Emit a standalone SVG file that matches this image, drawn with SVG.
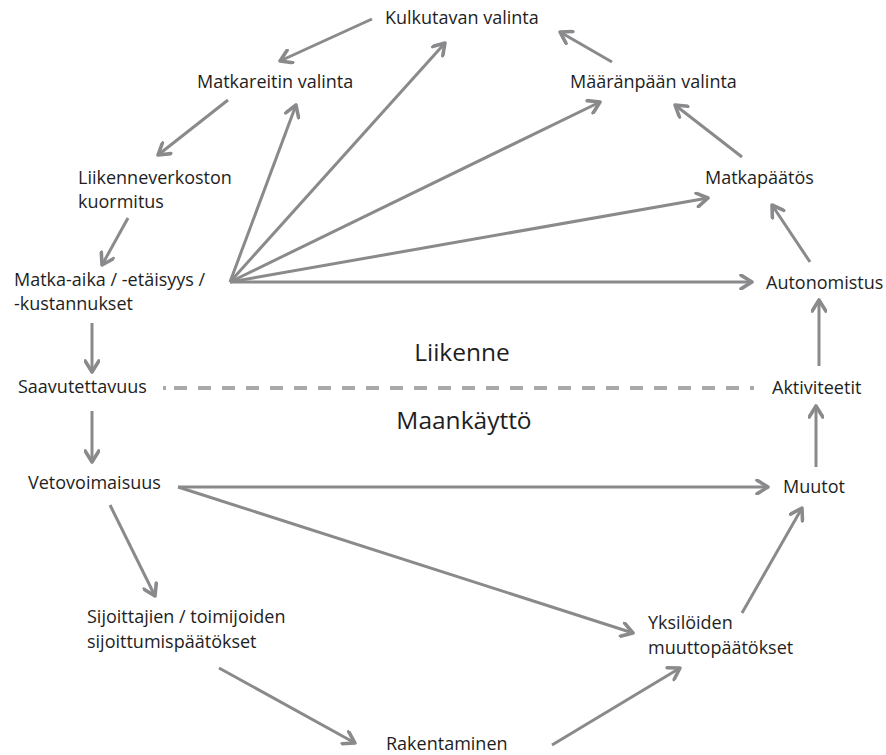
<svg xmlns="http://www.w3.org/2000/svg" width="886" height="755" viewBox="0 0 886 755">
  <style>
    .lbl { font-family: "Open Sans", "Liberation Sans", sans-serif; font-size: 18px; fill: #1e1e1e; }
    .big { font-family: "Open Sans", "Liberation Sans", sans-serif; font-size: 24.5px; fill: #1e1e1e; }
    .edge { stroke: #8a8a8c; stroke-width: 3; fill: none; marker-end: url(#head); }
    .divider { stroke: #a9a9ab; stroke-width: 4; fill: none; }
  </style>
  <defs>
    <marker id="head" viewBox="0 0 12 12" refX="10" refY="6" markerWidth="5.5" markerHeight="5.5" orient="auto" markerUnits="strokeWidth">
      <path d="M2,1 L10,6 L2,11" fill="none" stroke="#8a8a8c" stroke-width="2.6" stroke-linecap="round" stroke-linejoin="round"/>
    </marker>
  </defs>
  <rect width="886" height="755" fill="#ffffff"/>

  <!-- boundary between the two domains -->
  <g id="divider">
    <line class="divider" x1="163" y1="388" x2="166" y2="388"/>
    <line class="divider" x1="174" y1="388" x2="754" y2="388" stroke-dasharray="13 11"/>
  </g>

  <!-- connectors -->
  <g id="connectors">
    <line class="edge" x1="372" y1="19" x2="280" y2="61"/>
    <line class="edge" x1="228" y1="100" x2="158" y2="155"/>
    <line class="edge" x1="128" y1="218" x2="102" y2="265"/>
    <line class="edge" x1="230" y1="282" x2="296" y2="105"/>
    <line class="edge" x1="230" y1="282" x2="445" y2="43"/>
    <line class="edge" x1="230" y1="282" x2="600" y2="102"/>
    <line class="edge" x1="230" y1="282" x2="708" y2="198"/>
    <line class="edge" x1="230" y1="282" x2="752" y2="282"/>
    <line class="edge" x1="612" y1="62" x2="560" y2="32"/>
    <line class="edge" x1="742" y1="157" x2="675" y2="105"/>
    <line class="edge" x1="810" y1="262" x2="772" y2="205"/>
    <line class="edge" x1="819" y1="366" x2="819" y2="300"/>
    <line class="edge" x1="92" y1="323" x2="92" y2="372"/>
    <line class="edge" x1="92" y1="411" x2="92" y2="462"/>
    <line class="edge" x1="178" y1="487" x2="768" y2="487"/>
    <line class="edge" x1="178" y1="487" x2="633" y2="633"/>
    <line class="edge" x1="110" y1="505" x2="155" y2="596"/>
    <line class="edge" x1="219" y1="668" x2="355" y2="743"/>
    <line class="edge" x1="552" y1="745" x2="680" y2="668"/>
    <line class="edge" x1="742" y1="613" x2="802" y2="508"/>
    <line class="edge" x1="816" y1="467" x2="816" y2="406"/>
  </g>

  <!-- domain headings -->
  <g id="heading-liikenne"><text class="big" x="462" y="361" text-anchor="middle">Liikenne</text></g>
  <g id="heading-maankaytto"><text class="big" x="464" y="429" text-anchor="middle">Maankäyttö</text></g>

  <!-- nodes -->
  <g id="kulkutavan-valinta"><text class="lbl" x="385" y="24">Kulkutavan valinta</text></g>
  <g id="matkareitin-valinta"><text class="lbl" x="197" y="88">Matkareitin valinta</text></g>
  <g id="maaranpaan-valinta"><text class="lbl" x="570" y="88">Määränpään valinta</text></g>
  <g id="liikenneverkoston-kuormitus">
    <text class="lbl" x="78" y="184">Liikenneverkoston</text>
    <text class="lbl" x="78" y="208">kuormitus</text>
  </g>
  <g id="matkapaatos"><text class="lbl" x="705" y="184">Matkapäätös</text></g>
  <g id="matka-aika">
    <text class="lbl" x="14" y="286">Matka-aika / -etäisyys /</text>
    <text class="lbl" x="14" y="310">-kustannukset</text>
  </g>
  <g id="autonomistus"><text class="lbl" x="766" y="289">Autonomistus</text></g>
  <g id="saavutettavuus"><text class="lbl" x="18" y="393">Saavutettavuus</text></g>
  <g id="aktiviteetit"><text class="lbl" x="772" y="394">Aktiviteetit</text></g>
  <g id="vetovoimaisuus"><text class="lbl" x="28" y="489">Vetovoimaisuus</text></g>
  <g id="muutot"><text class="lbl" x="783" y="493">Muutot</text></g>
  <g id="sijoittajien-paatokset">
    <text class="lbl" x="87" y="623">Sijoittajien / toimijoiden</text>
    <text class="lbl" x="87" y="648">sijoittumispäätökset</text>
  </g>
  <g id="yksiloiden-paatokset">
    <text class="lbl" x="648" y="629">Yksilöiden</text>
    <text class="lbl" x="648" y="654">muuttopäätökset</text>
  </g>
  <g id="rakentaminen"><text class="lbl" x="386" y="750">Rakentaminen</text></g>
</svg>
